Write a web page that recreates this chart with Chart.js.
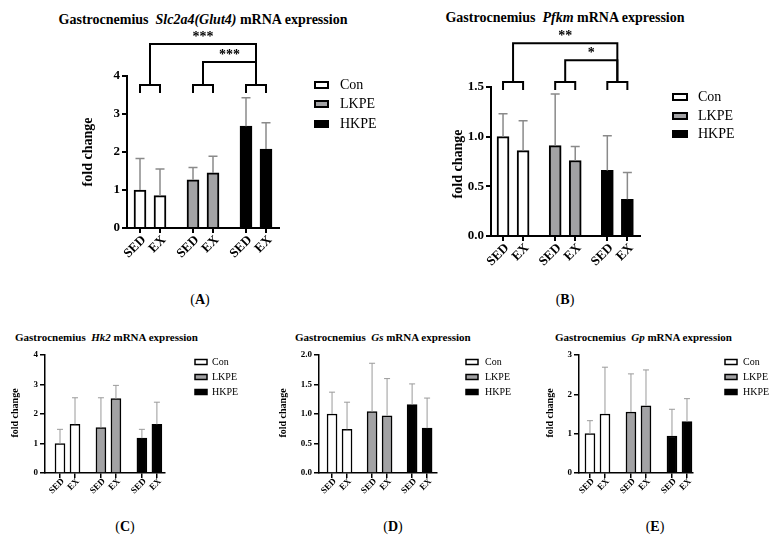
<!DOCTYPE html>
<html>
<head>
<meta charset="utf-8">
<script src="https://cdn.jsdelivr.net/npm/chart.js@4.4.1/dist/chart.umd.min.js"></script>
<style>
body{margin:0;width:775px;height:543px;position:relative;background:#fff;overflow:hidden;font-family:"Liberation Serif","Times New Roman",Times,"DejaVu Serif",serif;color:#000}
canvas{position:absolute;left:0;top:0}
.ttl{position:absolute;font-weight:bold;white-space:nowrap}
.mid{transform:translate(-50%,-50%)}
.lft{transform:translateY(-50%)}
.let{position:absolute;font-size:14px;transform:translate(-50%,-50%)}
</style>
</head>
<body>
<div class="ttl mid" style="left:203px;top:20px;font-size:14px">Gastrocnemius&nbsp; <i>Slc2a4(Glut4)</i> mRNA expression</div>
<div class="ttl mid" style="left:565px;top:18px;font-size:14px">Gastrocnemius&nbsp; <i>Pfkm</i> mRNA expression</div>
<div class="ttl lft" style="left:15px;top:337px;font-size:11px">Gastrocnemius&nbsp; <i>Hk2</i> mRNA expression</div>
<div class="ttl lft" style="left:295px;top:337px;font-size:11px">Gastrocnemius&nbsp; <i>Gs</i> mRNA expression</div>
<div class="ttl lft" style="left:555px;top:337px;font-size:11px">Gastrocnemius&nbsp; <i>Gp</i> mRNA expression</div>
<div class="let" style="left:200px;top:300px">(<b>A</b>)</div>
<div class="let" style="left:565px;top:300px">(<b>B</b>)</div>
<div class="let" style="left:125px;top:527px">(<b>C</b>)</div>
<div class="let" style="left:393px;top:527px">(<b>D</b>)</div>
<div class="let" style="left:655px;top:527px">(<b>E</b>)</div>
<script>
// data
const groups = ['Con', 'LKPE', 'HKPE'];
const conditions = ['SED', 'EX'];

const glut4Mean = [1.00, 0.85, 1.27, 1.45, 2.68, 2.08];
const glut4Err  = [0.83, 0.70, 0.32, 0.44, 0.75, 0.69];
const glut4Ticks = [0, 1, 2, 3, 4];
const glut4SigPairs = [[0, 2], [1, 2]];
const glut4SigLabels = ['***', '***'];

const pfkmMean = [1.00, 0.86, 0.91, 0.76, 0.66, 0.37];
const pfkmErr  = [0.23, 0.30, 0.52, 0.14, 0.35, 0.27];
const pfkmTicks = [0, 0.5, 1.0, 1.5];
const pfkmSigPairs = [[0, 2], [1, 2]];
const pfkmSigLabels = ['**', '*'];

const hk2Mean = [1.00, 1.65, 1.54, 2.52, 1.18, 1.65];
const hk2Err  = [0.48, 0.90, 1.01, 0.45, 0.30, 0.75];
const hk2Ticks = [0, 1, 2, 3, 4];

const gsMean = [1.00, 0.74, 1.04, 0.97, 1.16, 0.76];
const gsErr  = [0.37, 0.46, 0.82, 0.63, 0.35, 0.51];
const gsTicks = [0, 0.5, 1.0, 1.5, 2.0];

const gpMean = [1.00, 1.50, 1.55, 1.71, 0.94, 1.31];
const gpErr  = [0.33, 1.19, 0.97, 0.91, 0.68, 0.58];
const gpTicks = [0, 1, 2, 3];

const fills = ['#ffffff', '#a2a2a4', '#000000'];
const FONT = '"Liberation Serif", "Times New Roman", Times, "DejaVu Serif", serif';

Chart.defaults.font.family = FONT;
Chart.defaults.color = '#000';

function decorPlugin(p, pos) {
    return {
        id: 'decor',
        afterDatasetsDraw(chart) {
            const ctx = chart.ctx, xs = chart.scales.x, ys = chart.scales.y;
            ctx.save();
            // error bars (upper only)
            ctx.strokeStyle = p.errColor;
            ctx.lineWidth = p.errW;
            chart.data.datasets.forEach(function(ds, di) {
                chart.getDatasetMeta(di).data.forEach(function(bar, i) {
                    const top = ys.getPixelForValue(ds.data[i].y + ds.err[i]);
                    ctx.beginPath();
                    ctx.moveTo(bar.x, bar.y);
                    ctx.lineTo(bar.x, top);
                    ctx.moveTo(bar.x - p.capW / 2, top);
                    ctx.lineTo(bar.x + p.capW / 2, top);
                    ctx.stroke();
                });
            });
            // rotated SED / EX labels
            ctx.fillStyle = '#000';
            ctx.font = 'bold ' + p.tickFont + 'px ' + FONT;
            ctx.textAlign = 'right';
            ctx.textBaseline = 'middle';
            pos.forEach(function(v, i) {
                ctx.save();
                ctx.translate(xs.getPixelForValue(v) + p.labDx, ys.bottom + p.labDy);
                ctx.rotate(-Math.PI / 4);
                ctx.fillText(conditions[i % 2], 0, 0);
                ctx.restore();
            });
            // significance brackets
            if (p.sigPairs) {
                ctx.strokeStyle = '#000';
                ctx.lineWidth = p.lw;
                const gx = g => (xs.getPixelForValue(pos[2 * g]) + xs.getPixelForValue(pos[2 * g + 1])) / 2;
                const yTop = ys.getPixelForValue(p.brTop), yLeg = ys.getPixelForValue(p.brLeg);
                groups.forEach(function(g, gi) {
                    const x0 = xs.getPixelForValue(pos[2 * gi]), x1 = xs.getPixelForValue(pos[2 * gi + 1]);
                    ctx.beginPath();
                    ctx.moveTo(x0, yLeg); ctx.lineTo(x0, yTop); ctx.lineTo(x1, yTop); ctx.lineTo(x1, yLeg);
                    ctx.stroke();
                });
                ctx.font = 'bold 14px ' + FONT;
                ctx.textAlign = 'center';
                ctx.textBaseline = 'middle';
                p.sigPairs.forEach(function(pr, k) {
                    const yl = ys.getPixelForValue(p.brLevels[k]);
                    ctx.beginPath();
                    ctx.moveTo(gx(pr[0]), yTop); ctx.lineTo(gx(pr[0]), yl);
                    ctx.lineTo(gx(pr[1]), yl); ctx.lineTo(gx(pr[1]), yTop);
                    ctx.stroke();
                    ctx.fillText(p.sigLabels[k], (gx(pr[0]) + gx(pr[1])) / 2, yl - 7);
                });
            }
            // legend
            ctx.font = p.legFont + 'px ' + FONT;
            ctx.textAlign = 'left';
            ctx.textBaseline = 'middle';
            chart.data.datasets.forEach(function(ds, di) {
                const y = p.legRows[di];
                ctx.fillStyle = ds.backgroundColor;
                ctx.fillRect(p.legX, y - p.legH / 2, p.legW, p.legH);
                ctx.strokeStyle = '#000';
                ctx.lineWidth = p.bw;
                ctx.strokeRect(p.legX, y - p.legH / 2, p.legW, p.legH);
                ctx.fillStyle = '#000';
                ctx.fillText(ds.label, p.legTextX, y);
            });
            // y axis title
            ctx.translate(p.yTitleX, p.yTitleY);
            ctx.rotate(-Math.PI / 2);
            ctx.font = 'bold ' + p.yTitleFont + 'px ' + FONT;
            ctx.textAlign = 'center';
            ctx.fillText('fold change', 0, 0);
            ctx.restore();
        }
    };
}

function makePanel(p) {
    const cv = document.createElement('canvas');
    cv.width = 775;
    cv.height = 543;
    document.body.appendChild(cv);

    const pos = [];
    groups.forEach((g, gi) => conditions.forEach((c, ci) => pos.push(gi * p.step + ci)));

    const datasets = groups.map(function(g, gi) {
        return {
            label: g,
            data: conditions.map((c, ci) => ({x: pos[gi * 2 + ci], y: p.mean[gi * 2 + ci]})),
            err: conditions.map((c, ci) => p.err[gi * 2 + ci]),
            backgroundColor: fills[gi],
            borderColor: '#000',
            borderWidth: p.bw,
            barThickness: p.barW,
            grouped: false
        };
    });

    const axisGrid = {display: true, drawOnChartArea: false, drawTicks: true, tickLength: 5, color: '#000', lineWidth: p.lw, offset: false};
    new Chart(cv, {
        type: 'bar',
        data: {datasets: datasets},
        options: {
            responsive: false,
            animation: false,
            devicePixelRatio: 1,
            layout: {padding: {left: p.left - 40, right: 775 - p.right, top: p.top, bottom: 543 - p.bottom - 40}},
            plugins: {legend: {display: false}, tooltip: {enabled: false}},
            scales: {
                x: {
                    type: 'linear', min: p.xmin, max: p.xmax, offset: false,
                    afterFit: s => { s.height = 40; },
                    afterBuildTicks: s => { s.ticks = pos.map(v => ({value: v})); },
                    ticks: {display: false},
                    grid: axisGrid,
                    border: {display: true, color: '#000', width: p.lw}
                },
                y: {
                    min: 0, max: p.ticks[p.ticks.length - 1],
                    afterFit: s => { s.width = 40; },
                    afterBuildTicks: s => { s.ticks = p.ticks.map(v => ({value: v})); },
                    ticks: {
                        callback: v => v.toFixed(p.dec),
                        padding: 2,
                        font: {size: p.tickFont, weight: 'bold'}
                    },
                    grid: axisGrid,
                    border: {display: true, color: '#000', width: p.lw}
                }
            }
        },
        plugins: [decorPlugin(p, pos)]
    });
}

const bigStyle = {lw: 2, bw: 2, barW: 12, capW: 9, errColor: '#8a8a8a', errW: 1.5, tickFont: 13, legFont: 14, legH: 6, yTitleFont: 14, labDx: 4, labDy: 10};
const smallStyle = {lw: 1.5, bw: 1.5, barW: 10, capW: 6, errColor: '#9a9a9a', errW: 1, tickFont: 9, legFont: 10, legW: 12, legH: 5, yTitleFont: 10, legRows: [362, 377, 392], yTitleY: 413, labDx: 3, labDy: 7};

makePanel(Object.assign({}, bigStyle, {
    mean: glut4Mean, err: glut4Err, ticks: glut4Ticks, dec: 0,
    left: 127, right: 279, top: 76, bottom: 228, xmin: -0.65, xmax: 6.95, step: 2.65,
    sigPairs: glut4SigPairs, sigLabels: glut4SigLabels, brTop: 3.76, brLeg: 3.55, brLevels: [4.84, 4.37],
    legX: 315, legW: 13, legTextX: 340, legRows: [85, 104, 124], yTitleX: 88, yTitleY: 152
}));
makePanel(Object.assign({}, bigStyle, {
    mean: pfkmMean, err: pfkmErr, ticks: pfkmTicks, dec: 1,
    left: 491, right: 640, top: 87, bottom: 236, xmin: -0.6, xmax: 6.83, step: 2.6,
    sigPairs: pfkmSigPairs, sigLabels: pfkmSigLabels, brTop: 1.55, brLeg: 1.47, brLevels: [1.94, 1.77],
    legX: 673, legW: 14, legTextX: 698, legRows: [97, 116, 134], yTitleX: 458, yTitleY: 164
}));
makePanel(Object.assign({}, smallStyle, {
    mean: hk2Mean, err: hk2Err, ticks: hk2Ticks, dec: 0,
    left: 45, right: 165, top: 355, bottom: 473, xmin: -1.0, xmax: 7.0, step: 2.73,
    legX: 195, legTextX: 212, yTitleX: 15
}));
makePanel(Object.assign({}, smallStyle, {
    mean: gsMean, err: gsErr, ticks: gsTicks, dec: 1,
    left: 319, right: 437, top: 355, bottom: 473, xmin: -0.87, xmax: 7.0, step: 2.67,
    legX: 466, legTextX: 485, yTitleX: 283
}));
makePanel(Object.assign({}, smallStyle, {
    mean: gpMean, err: gpErr, ticks: gpTicks, dec: 0,
    left: 579, right: 693, top: 355, bottom: 473, xmin: -0.73, xmax: 6.86, step: 2.73,
    legX: 725, legTextX: 743, yTitleX: 550
}));
</script>
</body>
</html>
